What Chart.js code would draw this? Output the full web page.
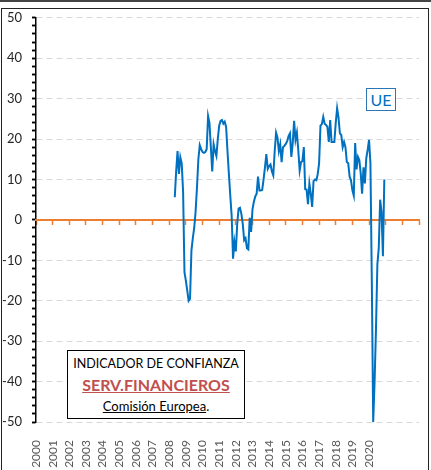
<!DOCTYPE html>
<html lang="es">
<head>
<meta charset="utf-8">
<title>Indicador de confianza - Serv. financieros (UE)</title>
<script src="https://cdn.jsdelivr.net/npm/chart.js@4.4.1/dist/chart.umd.min.js"></script>
<style>
  html, body { margin: 0; padding: 0; background: #fff; }
  #wrap { position: relative; width: 431px; height: 470px; overflow: hidden; font-family: Lato, "Noto Sans", sans-serif; }
  #grafico { position: absolute; left: 0; top: 0; }
  #topbar { position: absolute; left: 0; top: 0; width: 431px; height: 2px; background: #444; }
  #frame { position: absolute; left: 1px; top: 8px; width: 426px; height: 470px; border: 1px solid #222; pointer-events: none; }
  #ue { position: absolute; left: 366px; top: 88px; width: 28px; height: 21px; border: 1px solid #2e75b6;
        color: #0070c0; font-size: 16px; line-height: 21px; text-align: center; background: #fff; }
  #nota { position: absolute; left: 67px; top: 350px; width: 176px; height: 64px; border: 1.5px solid #000;
          background: #fff; text-align: center; padding-top: 3px; box-sizing: content-box; }
  #nota .l1 { font-size: 12.5px; line-height: 19px; color: #000; }
  #nota .l2 { font-size: 16px; line-height: 24px; font-weight: bold; color: #c0504d; text-decoration: underline; }
  #nota .l3 { font-size: 13px; line-height: 18px; color: #000; }
</style>
</head>
<body>
<div id="wrap">
  <canvas id="grafico" width="431" height="470"></canvas>
  <div id="topbar"></div>
  <div id="frame"></div>
  <div id="ue">UE</div>
  <div id="nota">
    <div class="l1">INDICADOR DE CONFIANZA</div>
    <div class="l2">SERV.FINANCIEROS</div>
    <div class="l3"><u>Comisión Europea</u>.</div>
  </div>
</div>
<script>
// Indicador de confianza servicios financieros, UE — datos mensuales (may-2008 .. dic-2020)
const ANIO_INICIO = 2008, MES_INICIO = 5;
const ue2008 = [5.6, 12, 17, 11.4, 15.5, 14, 7, -13];                          // may..dic
const ue2009 = [-15, -17.5, -20, -19.5, -7.6, -4.5, -2, 2, 8, 15, 18.5, 17.5];
const ue2010 = [16.8, 16.6, 16.8, 17.5, 25.7, 24, 18, 12, 18.7, 17, 15.8, 20];
const ue2011 = [23.3, 24.5, 24.7, 23.8, 24.3, 23, 17, 11.4, 6, 1, -9.6, -5.4];
const ue2012 = [-7.8, -1, 2.8, 3, 1.5, -1, -5, -4.5, -7, -7.3, 0.5, -3];
const ue2013 = [2.6, 4.5, 5.8, 6.5, 10.7, 7.3, 7.3, 7.4, 10, 13, 16.3, 12.6];
const ue2014 = [13.3, 13.7, 12, 11, 17, 21.6, 20.4, 17, 18.7, 14.3, 18, 18.3];
const ue2015 = [18.8, 19.5, 20.7, 21.4, 15.6, 19, 24.5, 19.8, 21.6, 17.3, 12.2, 14.3];
const ue2016 = [14.6, 18, 7.6, 7.5, 3.9, 9, 6.5, 3.2, 9.6, 10, 9.8, 11.3];
const ue2017 = [14, 23.3, 23.7, 25.5, 23.8, 23.5, 23, 19.3, 24.7, 19.3, 19.3, 19.3];
const ue2018 = [24, 27.6, 25.3, 21.4, 21, 18, 19.3, 18, 14.3, 14, 10.7, 9.8];
const ue2019 = [7.3, 6, 19, 12.5, 15.6, 14.8, 11.5, 6.5, 13, 9, 15.2, 17.3];
const ue2020 = [19.8, 14, -15, -50, -40, -27, -11, -7, 5, 2, -9, 10];

// ejes
const ANIO_MIN = 2000, ANIO_MAX = 2023;     // el eje llega hasta 2023, pero solo se rotula hasta 2020
const ULTIMO_ROTULO = 2020;
const Y_MIN = -50, Y_MAX = 50;

const valores = [].concat(ue2008, ue2009, ue2010, ue2011, ue2012, ue2013, ue2014,
                          ue2015, ue2016, ue2017, ue2018, ue2019, ue2020);
const puntos = valores.map((v, i) => ({ x: ANIO_INICIO + (MES_INICIO - 1 + i) / 12, y: v }));

Chart.defaults.font.family = 'Lato, "Noto Sans", sans-serif';

new Chart(document.getElementById('grafico'), {
  type: 'line',
  data: {
    datasets: [{
      label: 'UE', data: puntos, xAxisID: 'x', yAxisID: 'y',
      borderColor: '#0070c0', borderWidth: 2, pointRadius: 0, tension: 0, fill: false,
    }],
  },
  options: {
    responsive: false,
    animation: false,
    events: [],
    layout: { padding: { top: 17, right: 12, left: 0, bottom: 0 } },
    plugins: { legend: { display: false }, tooltip: { enabled: false } },
    scales: {
      // rótulos de años abajo
      x: {
        type: 'linear', position: 'bottom', min: ANIO_MIN, max: ANIO_MAX,
        grid: { display: false }, border: { display: false },
        ticks: {
          stepSize: 1, autoSkip: false, minRotation: 90, maxRotation: 90, padding: 10,
          color: '#595959', font: { size: 12 },
          callback: v => (v <= ULTIMO_ROTULO ? String(v) : ''),
        },
        // altura fija y sin margen extra por los rótulos de los extremos
        afterFit: s => { s.height = 48; s.paddingLeft = 0; s.paddingRight = 0; },
      },
      y: {
        min: Y_MIN, max: Y_MAX, position: 'left',
        ticks: {
          stepSize: 2, autoSkip: false, padding: 10, color: '#262626', font: { size: 13 },
          callback: v => (v % 10 === 0 ? String(v) : ''),
        },
        grid: {
          color: c => (c.tick && c.tick.value % 10 === 0 ? '#d9d9d9' : 'rgba(0,0,0,0)'),
          tickColor: '#000', tickLength: 4, tickWidth: 1.5,
        },
        border: { color: '#000', width: 1.5, dash: [6, 4] },
        afterFit: s => { s.width = 36; },
      },
      // eje de categorías naranja en y = 0, marcas hacia abajo
      x0: {
        type: 'linear', position: { y: 0 }, min: ANIO_MIN, max: ANIO_MAX,
        ticks: { display: false, stepSize: 1 },
        grid: { drawOnChartArea: false, tickColor: '#ed7d31', tickLength: 4, tickWidth: 1.5 },
        border: { color: '#ed7d31', width: 2 },
      },
      // marcas menores a la derecha del eje vertical (cruzadas)
      y0: {
        type: 'linear', position: { x: ANIO_MIN }, min: Y_MIN, max: Y_MAX,
        ticks: { display: false, stepSize: 2 },
        grid: { drawOnChartArea: false, tickColor: '#000', tickLength: 4, tickWidth: 1.5 },
        border: { display: false },
      },
    },
  },
});
</script>
</body>
</html>
